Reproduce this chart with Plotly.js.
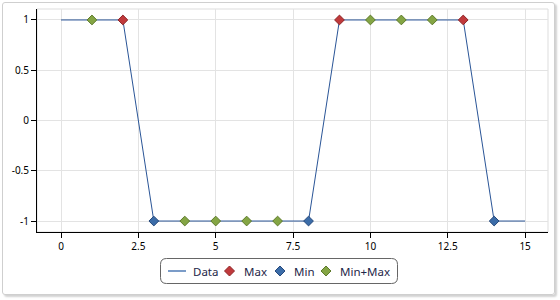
<!DOCTYPE html>
<html>
<head>
<meta charset="utf-8">
<script src="https://cdn.plot.ly/plotly-3.0.1.min.js"></script>
<style>
  html, body { margin: 0; padding: 0; background: #ffffff; }
  #wrap { position: relative; width: 560px; height: 300px; }
  #chart { position: absolute; left: 0; top: 0; width: 560px; height: 300px; }
  #frame { position: absolute; left: 2px; top: 2px; width: 551px; height: 291px;
           border: 1px solid #cfcfcf; border-radius: 3px;
           box-shadow: 2px 2px 2px rgba(0,0,0,0.18); pointer-events: none; }
</style>
</head>
<body>
<div id="wrap">
  <div id="frame"></div>
  <div id="chart"></div>
</div>
<script>
// ---- data ----
const dataX = [0, 1, 2, 3, 4, 5, 6, 7, 8, 9, 10, 11, 12, 13, 14, 15];
const dataY = [1, 1, 1, -1, -1, -1, -1, -1, -1, 1, 1, 1, 1, 1, -1, -1];
const maxX = [2, 9, 13];
const maxY = [1, 1, 1];
const minX = [3, 8, 14];
const minY = [-1, -1, -1];
const minMaxX = [1, 4, 5, 6, 7, 10, 11, 12];
const minMaxY = [1, -1, -1, -1, -1, 1, 1, 1];
const xTickVals = [0, 2.5, 5, 7.5, 10, 12.5, 15];
const xTickText = ["0", "2.5", "5", "7.5", "10", "12.5", "15"];
const yTickVals = [-1, -0.5, 0, 0.5, 1];
const yTickText = ["-1", "-0.5", "0", "0.5", "1"];
const seriesNames = ["Data", "Max", "Min", "Min+Max"];

// ---- styles ----
const W = 560, H = 300;
const M = {l: 37, r: 12, t: 9, b: 68};
const PW = W - M.l - M.r, PH = H - M.t - M.b;
const px = v => (v - M.l) / PW;
const py = v => (H - M.b - v) / PH;

const lineColor = "#2a5597";
const red = {fill: "#c0393b", line: "#8e2426"};
const blue = {fill: "#3b6ca8", line: "#26497c"};
const green = {fill: "#84a544", line: "#5d7a2b"};
const textColor = "#1e2748";
const font = "Noto Sans, DejaVu Sans, sans-serif";

function diamondTrace(x, y, c, name) {
  return {
    x: x, y: y, name: name, type: "scatter", mode: "markers",
    marker: {symbol: "diamond", size: 7.5, color: c.fill, line: {color: c.line, width: 1}},
    showlegend: false, hoverinfo: "x+y"
  };
}

const traces = [
  {x: dataX, y: dataY, name: seriesNames[0], type: "scatter", mode: "lines",
   line: {color: lineColor, width: 1}, showlegend: false},
  diamondTrace(maxX, maxY, red, seriesNames[1]),
  diamondTrace(minX, minY, blue, seriesNames[2]),
  diamondTrace(minMaxX, minMaxY, green, seriesNames[3])
];

// ---- custom legend (rounded box) ----
function roundRect(x0, y0, x1, y1, r) {
  // pixel coords -> paper path
  const pts = (x, y) => px(x) + "," + py(y);
  return "M" + pts(x0 + r, y0) +
    " L" + pts(x1 - r, y0) + " Q" + pts(x1, y0) + " " + pts(x1, y0 + r) +
    " L" + pts(x1, y1 - r) + " Q" + pts(x1, y1) + " " + pts(x1 - r, y1) +
    " L" + pts(x0 + r, y1) + " Q" + pts(x0, y1) + " " + pts(x0, y1 - r) +
    " L" + pts(x0, y0 + r) + " Q" + pts(x0, y0) + " " + pts(x0 + r, y0) + " Z";
}
function diamondPath(cx, cy, r) {
  const p = (x, y) => px(x) + "," + py(y);
  return "M" + p(cx, cy - r) + " L" + p(cx + r, cy) + " L" + p(cx, cy + r) + " L" + p(cx - r, cy) + " Z";
}
const legY = 271;
const shapes = [
  {type: "rect", xref: "paper", yref: "paper", x0: 0, x1: 1, y0: 0, y1: 1,
   line: {color: "#dddddd", width: 1}, layer: "below"},
  {type: "path", xref: "paper", yref: "paper", path: roundRect(160.5, 258.5, 397.5, 283.5, 6),
   line: {color: "#666666", width: 1}, fillcolor: "rgba(255,255,255,0)"},
  {type: "line", xref: "paper", yref: "paper", x0: px(168), x1: px(186), y0: py(legY), y1: py(legY),
   line: {color: "#7b9cc8", width: 2}},
  {type: "path", xref: "paper", yref: "paper", path: diamondPath(229.5, legY, 5),
   fillcolor: red.fill, line: {color: red.line, width: 1}},
  {type: "path", xref: "paper", yref: "paper", path: diamondPath(280, legY, 5),
   fillcolor: blue.fill, line: {color: blue.line, width: 1}},
  {type: "path", xref: "paper", yref: "paper", path: diamondPath(326, legY, 5),
   fillcolor: green.fill, line: {color: green.line, width: 1}}
];
const legTextX = [191, 242, 292, 338];
const annotations = seriesNames.map((n, i) => ({
  text: n, xref: "paper", yref: "paper", x: px(legTextX[i]), y: py(legY),
  xanchor: "left", yanchor: "middle", showarrow: false,
  font: {family: font, size: 11.5, color: textColor}
}));

const axisCommon = {
  showgrid: true, gridcolor: "#e3e3e3", gridwidth: 1,
  zeroline: false, showline: true, linecolor: "#000000", linewidth: 1,
  ticks: "outside", ticklen: 5, tickcolor: "#000000", tickwidth: 1,
  tickfont: {family: font, size: 10, color: "#000000"},
  tickmode: "array", fixedrange: true
};

const layout = {
  width: W, height: H,
  margin: M,
  paper_bgcolor: "rgba(0,0,0,0)",
  plot_bgcolor: "#ffffff",
  showlegend: false,
  xaxis: Object.assign({}, axisCommon, {range: [-0.776, 15.74], tickvals: xTickVals, ticktext: xTickText}),
  yaxis: Object.assign({}, axisCommon, {range: [-1.109, 1.109], tickvals: yTickVals, ticktext: yTickText}),
  shapes: shapes,
  annotations: annotations
};

Plotly.newPlot("chart", traces, layout, {displayModeBar: false, staticPlot: true});
</script>
</body>
</html>
